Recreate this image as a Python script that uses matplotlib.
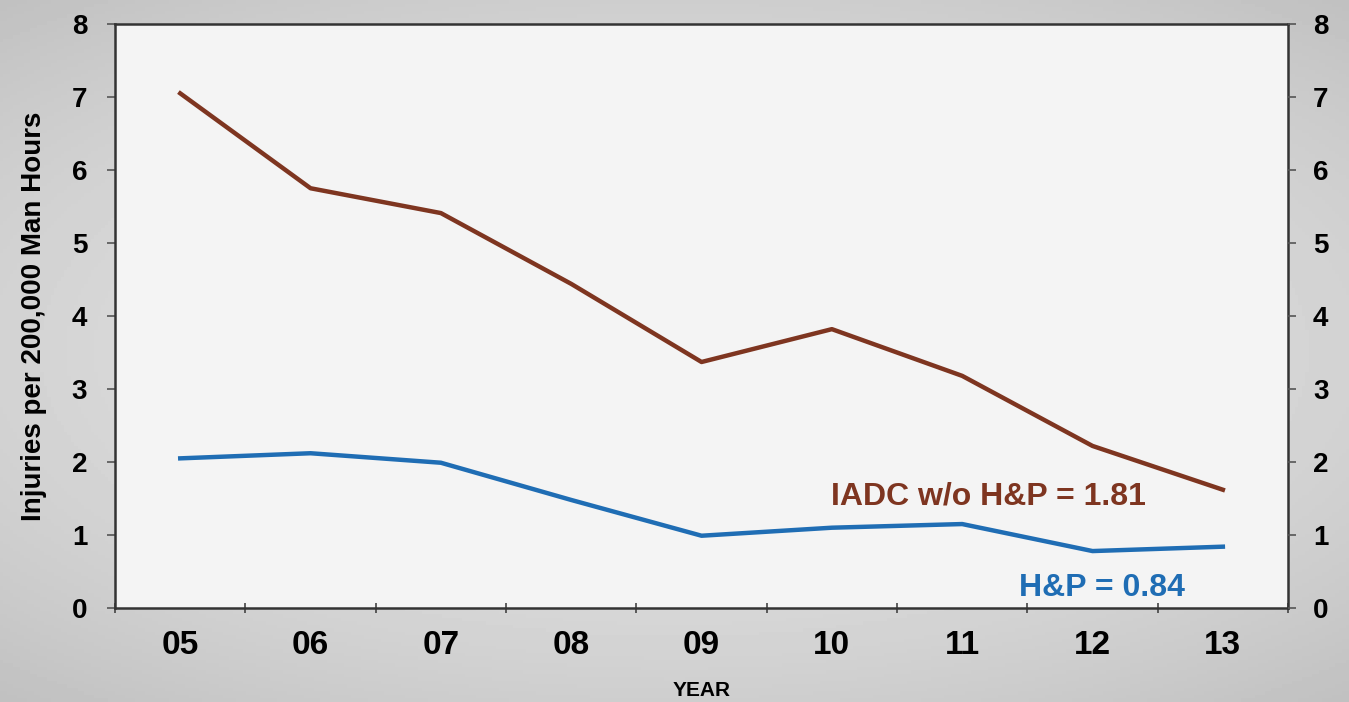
import numpy as np
from matplotlib import pyplot as plt

# Data
years = ['05', '06', '07', '08', '09', '10', '11', '12', '13']
iadc = [7.05, 5.75, 5.41, 4.44, 3.37, 3.82, 3.18, 2.22, 1.62]
hp = [2.05, 2.12, 1.99, 1.48, 0.99, 1.10, 1.15, 0.78, 0.84]

brown = '#7e3520'
blue = '#1f6db4'

plt.rcParams['font.family'] = ['Liberation Sans', 'DejaVu Sans']
plt.rcParams['font.weight'] = 'bold'

fig = plt.figure(figsize=(13.49, 7.02), dpi=100)

# grey background: soft vignette, lighter in the middle
bg = fig.add_axes([0, 0, 1, 1])
yy, xx = np.mgrid[-1:1:200j, -1:1:400j]
shade = 0.88 - 0.09 * (xx ** 2 * 0.6 + yy ** 2 * 0.8)
bg.imshow(shade, cmap='gray', vmin=0, vmax=1, aspect='auto', extent=[0, 1, 0, 1])
bg.axis('off')

ax = fig.add_axes([0.0853, 0.1339, 0.8695, 0.8319])
ax.set_facecolor('#f4f4f4')

x = np.arange(len(years))
ax.plot(x, iadc, color=brown, lw=3.2, solid_joinstyle='round')
ax.plot(x, hp, color=blue, lw=3.2, solid_joinstyle='round')

ax.set_xlim(-0.5, len(years) - 0.5)
ax.set_ylim(0, 8)
ax.set_yticks(range(0, 9))
ax.set_xticks(x)
ax.set_xticklabels(years, fontsize=24, fontweight='bold')
ax.set_xticks(np.arange(-0.5, len(years), 1.0), minor=True)
ax.tick_params(axis='x', which='major', length=0, pad=16)
ax.tick_params(axis='x', which='minor', length=7, width=1.2, color='#444444', direction='inout')
ax.tick_params(axis='y', length=6, width=1.2, color='#555555', labelsize=20, pad=14)
for lab in ax.get_yticklabels():
    lab.set_fontweight('bold')

for s in ax.spines.values():
    s.set_color('#333333')
    s.set_linewidth(1.8)

ax2 = ax.twinx()
ax2.set_ylim(0, 8)
ax2.set_yticks(range(0, 9))
ax2.tick_params(axis='y', length=6, width=1.2, color='#555555', labelsize=20, pad=12)
for lab in ax2.get_yticklabels():
    lab.set_fontweight('bold')
for s in ax2.spines.values():
    s.set_visible(False)

ax.set_ylabel('Injuries per 200,000 Man Hours', fontsize=20, fontweight='bold', labelpad=18)
ax.set_xlabel('YEAR', fontsize=15, fontweight='bold', labelpad=14)

ax.text(6.2, 1.53, 'IADC w/o H&P = 1.81', color=brown, fontsize=23,
        fontweight='bold', ha='center', va='center')
ax.text(7.07, 0.28, 'H&P = 0.84', color=blue, fontsize=23,
        fontweight='bold', ha='center', va='center')

fig.savefig('out.png', dpi=100)
